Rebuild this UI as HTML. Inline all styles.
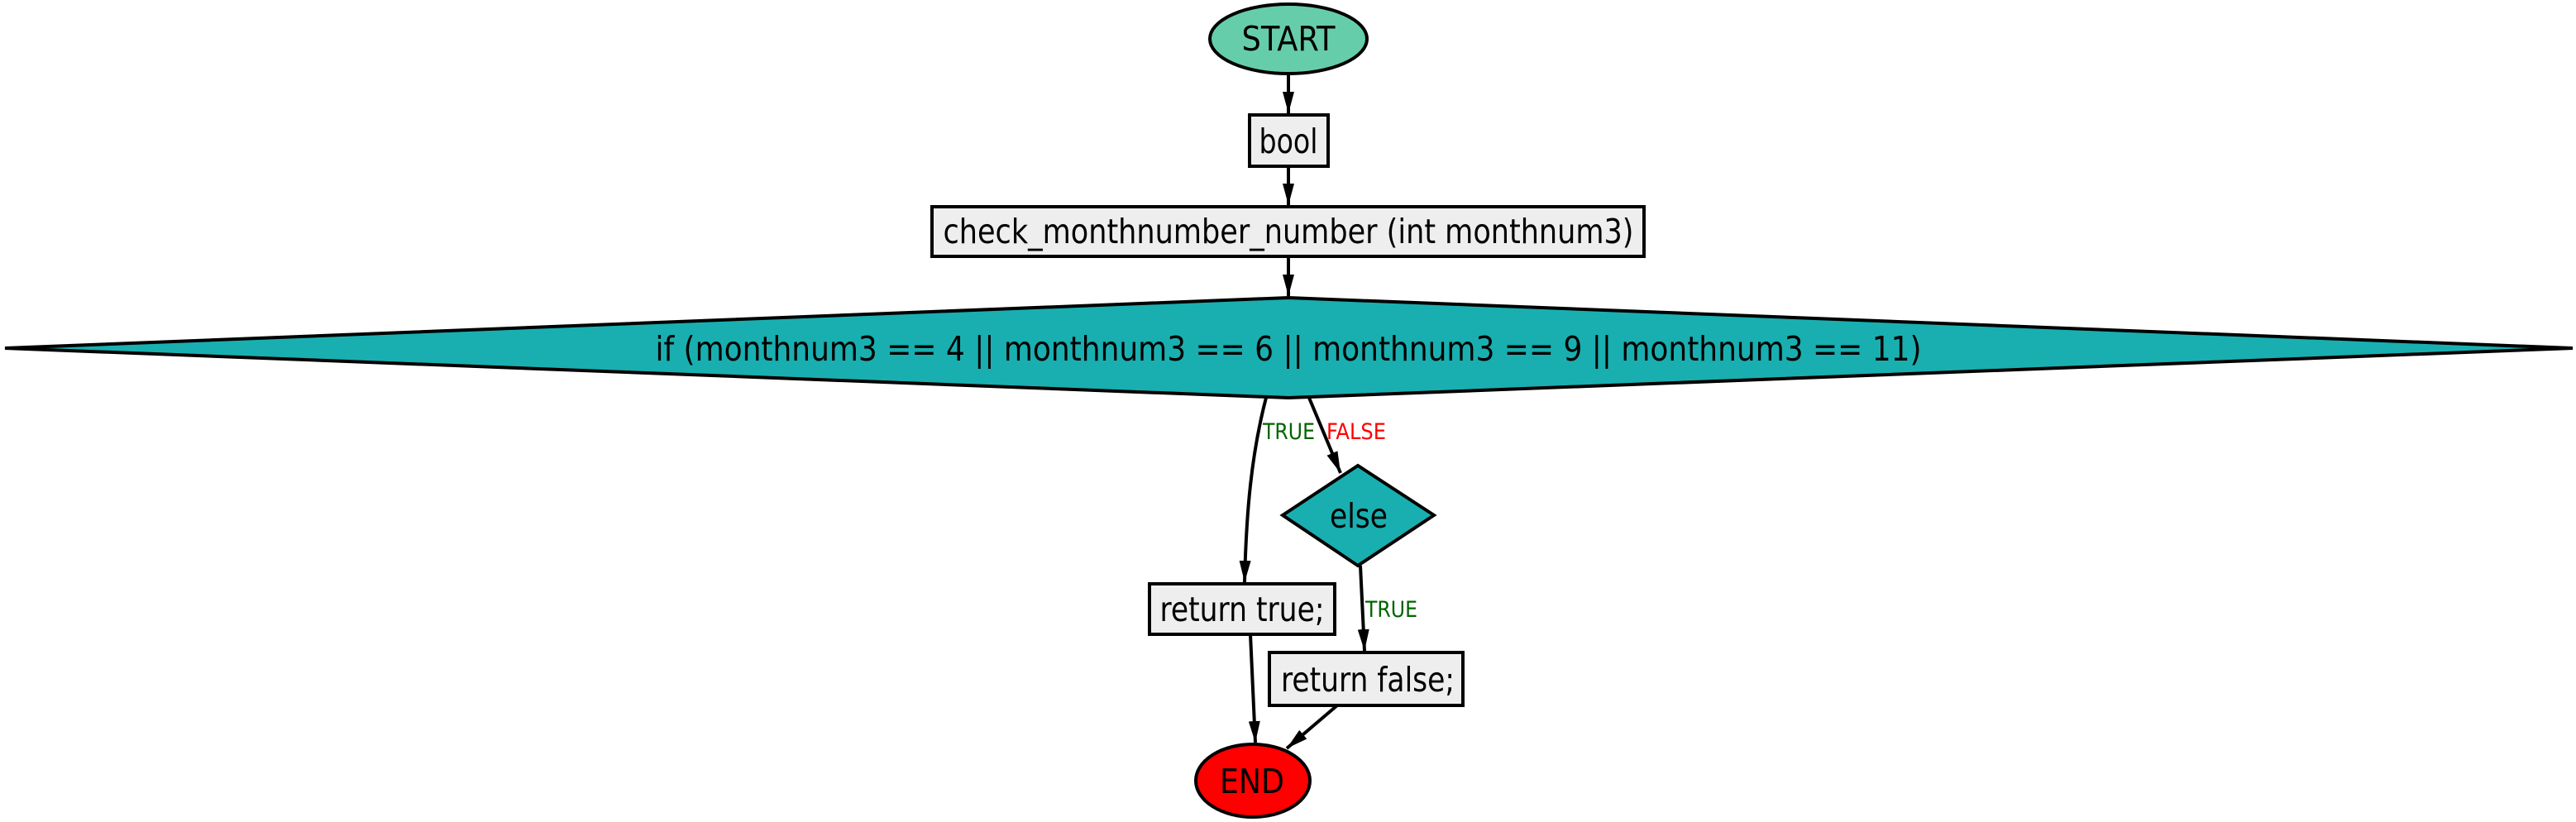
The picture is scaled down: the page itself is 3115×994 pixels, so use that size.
<!DOCTYPE html>
<html><head><style>html,body{margin:0;padding:0;background:#fff}svg{display:block}</style></head><body>
<svg width="3115" height="994" viewBox="0 0 3115 994" xmlns="http://www.w3.org/2000/svg" font-family="'DejaVu Sans Condensed','DejaVu Sans','Liberation Sans',sans-serif">
<defs>
<marker id="b" viewBox="0 0 10 10" refX="10" refY="5" markerWidth="26" markerHeight="14" orient="auto" markerUnits="userSpaceOnUse" preserveAspectRatio="none"><path d="M0,0 L10,5 L0,10 z" fill="#000"/></marker></defs>
<g stroke="#000" stroke-width="4">
<ellipse cx="1558" cy="47" rx="95" ry="42" fill="#66cdaa"/>
<rect x="1511" y="139" width="95" height="62" fill="#eeeeee"/>
<rect x="1127" y="250" width="861" height="60" fill="#eeeeee"/>
<polygon points="6,421 1558,360 3111,421 1558,481" fill="#19afb0"/>
<polygon points="1551,623 1642,563 1734,623 1642,684" fill="#19afb0"/>
<rect x="1390" y="706" width="224" height="61" fill="#eeeeee"/>
<rect x="1535" y="789" width="234" height="64" fill="#eeeeee"/>
<ellipse cx="1515" cy="944" rx="69" ry="44" fill="#ff0000"/>
<g fill="none" marker-end="url(#b)">
<line x1="1558" y1="89" x2="1558" y2="137"/>
<line x1="1558" y1="201" x2="1558" y2="248"/>
<line x1="1558" y1="310" x2="1558" y2="358"/>
<path d="M1531,481 C1513,550 1507,620 1505,704"/>
<line x1="1583" y1="481" x2="1621" y2="572"/>
<line x1="1645" y1="684" x2="1650" y2="787"/>
<line x1="1512" y1="767" x2="1518" y2="898"/>
<line x1="1617" y1="853" x2="1556" y2="905"/>
</g></g>
<g font-size="41" text-anchor="middle" fill="#000">
<text x="1558" y="61" textLength="113" lengthAdjust="spacingAndGlyphs">START</text>
<text x="1558" y="185" textLength="71" lengthAdjust="spacingAndGlyphs">bool</text>
<text x="1558" y="294" textLength="835" lengthAdjust="spacingAndGlyphs">check_monthnumber_number (int monthnum3)</text>
<text x="1558" y="436" textLength="1531" lengthAdjust="spacingAndGlyphs">if (monthnum3 == 4 || monthnum3 == 6 || monthnum3 == 9 || monthnum3 == 11)</text>
<text x="1643" y="638" textLength="70" lengthAdjust="spacingAndGlyphs">else</text>
<text x="1502" y="751" textLength="199" lengthAdjust="spacingAndGlyphs">return true;</text>
<text x="1654" y="836" textLength="210" lengthAdjust="spacingAndGlyphs">return false;</text>
<text x="1514" y="959" textLength="78" lengthAdjust="spacingAndGlyphs">END</text>
</g>
<g font-size="27">
<text x="1527" y="531" fill="#006400" textLength="63" lengthAdjust="spacingAndGlyphs">TRUE</text>
<text x="1604" y="531" fill="#ff0000" textLength="72" lengthAdjust="spacingAndGlyphs">FALSE</text>
<text x="1651" y="746" fill="#006400" textLength="63" lengthAdjust="spacingAndGlyphs">TRUE</text>
</g>
</svg>
</body></html>
